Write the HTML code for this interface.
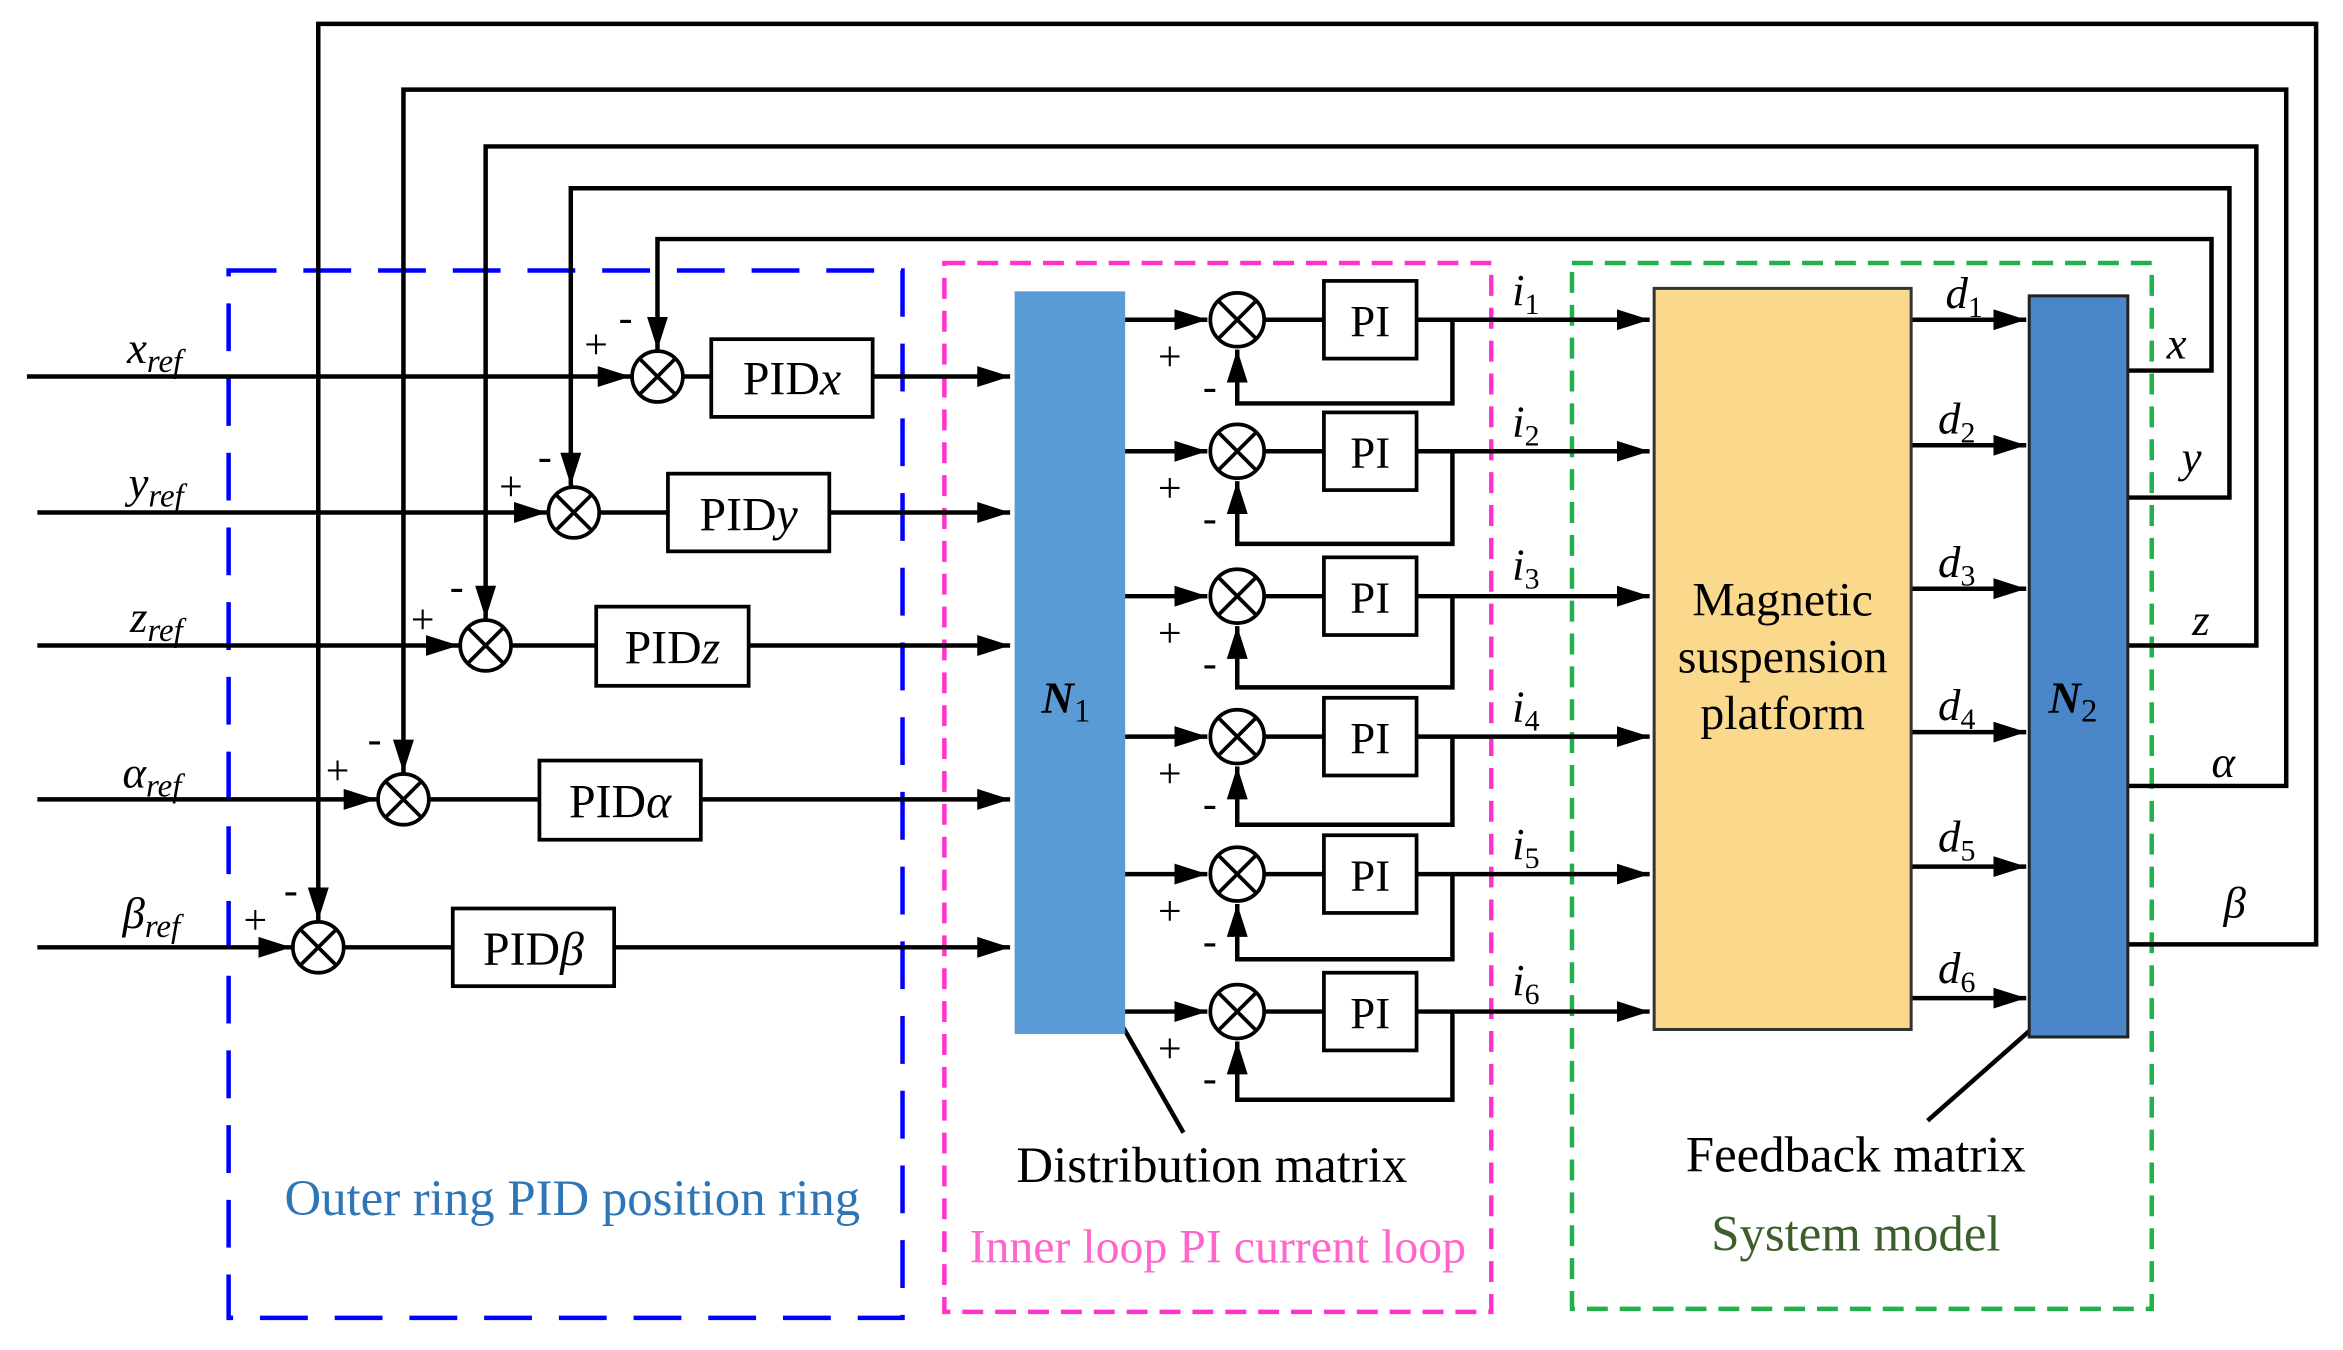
<!DOCTYPE html>
<html><head><meta charset="utf-8"><style>html,body{margin:0;padding:0;background:#fff}svg{display:block}</style></head>
<body>
<svg width="2343" height="1350" viewBox="0 0 1568 903.5" preserveAspectRatio="none" xmlns="http://www.w3.org/2000/svg" font-family="Liberation Serif, serif">
<defs>
<marker id="b" markerWidth="24" markerHeight="16" refX="22" refY="8" orient="auto" markerUnits="userSpaceOnUse"><path d="M0,1 L22,8 L0,15 z" fill="#000"/></marker></defs>
<g fill="none" stroke-width="3">
<rect x="153" y="181" width="451" height="701" stroke="#0000ff" stroke-dasharray="32,18"/>
<rect x="632" y="176" width="366" height="702" stroke="#ff33cc" stroke-dasharray="14,8"/>
<rect x="1052" y="176" width="388" height="700" stroke="#22b04b" stroke-dasharray="14,8"/>
</g>
<g stroke="#000" stroke-width="3" fill="none">
<path d="M1424,632 H1550 V16 H213 V616" marker-end="url(#b)"/>
<path d="M1424,526 H1530 V60 H270 V517" marker-end="url(#b)"/>
<path d="M1424,432 H1510 V98 H325 V414" marker-end="url(#b)"/>
<path d="M1424,333 H1492 V126 H382 V325" marker-end="url(#b)"/>
<path d="M1424,248 H1480 V160 H440 V234" marker-end="url(#b)"/>
<path d="M18,252 H422" marker-end="url(#b)"/><path d="M458,252 H476"/><path d="M584,252 H676" marker-end="url(#b)"/>
<path d="M25,343 H366" marker-end="url(#b)"/><path d="M402,343 H447"/><path d="M555,343 H676" marker-end="url(#b)"/>
<path d="M25,432 H307" marker-end="url(#b)"/><path d="M343,432 H399"/><path d="M501,432 H676" marker-end="url(#b)"/>
<path d="M25,535 H252" marker-end="url(#b)"/><path d="M288,535 H361"/><path d="M469,535 H676" marker-end="url(#b)"/>
<path d="M25,634 H195" marker-end="url(#b)"/><path d="M231,634 H303"/><path d="M411,634 H676" marker-end="url(#b)"/>
<path d="M1279,214 H1356" marker-end="url(#b)"/>
<path d="M1279,298 H1356" marker-end="url(#b)"/>
<path d="M1279,394 H1356" marker-end="url(#b)"/>
<path d="M1279,490 H1356" marker-end="url(#b)"/>
<path d="M1279,580 H1356" marker-end="url(#b)"/>
<path d="M1279,668 H1356" marker-end="url(#b)"/>
<path d="M733,655 L792,758"/><path d="M1383,668 L1290,750"/>
</g>
<rect x="679" y="195" width="74" height="497" fill="#5B9BD5"/>
<rect x="1107" y="193" width="172" height="496" fill="#FAD98C" stroke="#333" stroke-width="2"/>
<rect x="1358" y="198" width="66" height="496" fill="#4A86C8" stroke="#222" stroke-width="2"/>
<g stroke="#000" stroke-width="2.5" fill="#fff">
<rect x="476" y="227" width="108" height="52"/><rect x="447" y="317" width="108" height="52"/>
<rect x="399" y="406" width="102" height="53"/><rect x="361" y="509" width="108" height="53"/>
<rect x="303" y="608" width="108" height="52"/>
</g>
<g stroke="#000" stroke-width="2.5" fill="#fff">
<g transform="translate(440,252)"><circle r="17"/><path d="M-12,-12 L12,12 M12,-12 L-12,12"/></g>
<g transform="translate(384,343)"><circle r="17"/><path d="M-12,-12 L12,12 M12,-12 L-12,12"/></g>
<g transform="translate(325,432)"><circle r="17"/><path d="M-12,-12 L12,12 M12,-12 L-12,12"/></g>
<g transform="translate(270,535)"><circle r="17"/><path d="M-12,-12 L12,12 M12,-12 L-12,12"/></g>
<g transform="translate(213,634)"><circle r="17"/><path d="M-12,-12 L12,12 M12,-12 L-12,12"/></g>
</g>
<g font-size="32" text-anchor="middle">
<text x="530" y="264">PID<tspan font-style="italic">x</tspan></text>
<text x="501" y="355">PID<tspan font-style="italic">y</tspan></text>
<text x="450" y="444">PID<tspan font-style="italic">z</tspan></text>
<text x="415" y="547">PID<tspan font-style="italic">α</tspan></text>
<text x="357" y="646">PID<tspan font-style="italic">β</tspan></text>
</g>
<g font-size="30" font-style="italic">
<text x="85" y="243">x<tspan font-size="22" dy="6">ref</tspan></text>
<text x="86" y="333">y<tspan font-size="22" dy="6">ref</tspan></text>
<text x="87" y="423">z<tspan font-size="22" dy="6">ref</tspan></text>
<text x="82" y="527">α<tspan font-size="22" dy="6">ref</tspan></text>
<text x="82" y="621">β<tspan font-size="22" dy="6">ref</tspan></text>
</g>
<g font-size="28">
<text x="391" y="240">+</text><text x="414" y="222">-</text>
<text x="334" y="335">+</text><text x="360" y="315">-</text>
<text x="275" y="424">+</text><text x="301" y="402">-</text>
<text x="218" y="525">+</text><text x="246" y="504">-</text>
<text x="163" y="625">+</text><text x="190" y="605">-</text>
</g>
<g stroke="#000" stroke-width="3" fill="none">
<path d="M753,214 H808" marker-end="url(#b)"/><path d="M846,214 H886"/><path d="M948,214 H1104" marker-end="url(#b)"/><path d="M972,214 V270 H828 V234" marker-end="url(#b)"/>
<path d="M753,302 H808" marker-end="url(#b)"/><path d="M846,302 H886"/><path d="M948,302 H1104" marker-end="url(#b)"/><path d="M972,302 V364 H828 V322" marker-end="url(#b)"/>
<path d="M753,399 H808" marker-end="url(#b)"/><path d="M846,399 H886"/><path d="M948,399 H1104" marker-end="url(#b)"/><path d="M972,399 V460 H828 V419" marker-end="url(#b)"/>
<path d="M753,493 H808" marker-end="url(#b)"/><path d="M846,493 H886"/><path d="M948,493 H1104" marker-end="url(#b)"/><path d="M972,493 V552 H828 V513" marker-end="url(#b)"/>
<path d="M753,585 H808" marker-end="url(#b)"/><path d="M846,585 H886"/><path d="M948,585 H1104" marker-end="url(#b)"/><path d="M972,585 V642 H828 V605" marker-end="url(#b)"/>
<path d="M753,677 H808" marker-end="url(#b)"/><path d="M846,677 H886"/><path d="M948,677 H1104" marker-end="url(#b)"/><path d="M972,677 V736 H828 V697" marker-end="url(#b)"/>
</g>
<g stroke="#000" stroke-width="2.5" fill="#fff">
<g transform="translate(828,214)"><circle r="18"/><path d="M-13,-13 L13,13 M13,-13 L-13,13"/></g>
<g transform="translate(828,302)"><circle r="18"/><path d="M-13,-13 L13,13 M13,-13 L-13,13"/></g>
<g transform="translate(828,399)"><circle r="18"/><path d="M-13,-13 L13,13 M13,-13 L-13,13"/></g>
<g transform="translate(828,493)"><circle r="18"/><path d="M-13,-13 L13,13 M13,-13 L-13,13"/></g>
<g transform="translate(828,585)"><circle r="18"/><path d="M-13,-13 L13,13 M13,-13 L-13,13"/></g>
<g transform="translate(828,677)"><circle r="18"/><path d="M-13,-13 L13,13 M13,-13 L-13,13"/></g>
<rect x="886" y="188" width="62" height="52"/><rect x="886" y="276" width="62" height="52"/>
<rect x="886" y="373" width="62" height="52"/><rect x="886" y="467" width="62" height="52"/>
<rect x="886" y="559" width="62" height="52"/><rect x="886" y="651" width="62" height="52"/>
</g>
<g font-size="30" text-anchor="middle">
<text x="917" y="225">PI</text><text x="917" y="313">PI</text><text x="917" y="410">PI</text>
<text x="917" y="504">PI</text><text x="917" y="596">PI</text><text x="917" y="688">PI</text>
</g>
<g font-size="28">
<text x="775" y="248">+</text><text x="805" y="268">-</text>
<text x="775" y="336">+</text><text x="805" y="356">-</text>
<text x="775" y="433">+</text><text x="805" y="453">-</text>
<text x="775" y="527">+</text><text x="805" y="547">-</text>
<text x="775" y="619">+</text><text x="805" y="639">-</text>
<text x="775" y="711">+</text><text x="805" y="731">-</text>
</g>
<g font-size="30" font-style="italic">
<text x="1012" y="204">i<tspan font-size="20" dy="6" font-style="normal">1</tspan></text>
<text x="1012" y="292">i<tspan font-size="20" dy="6" font-style="normal">2</tspan></text>
<text x="1012" y="388">i<tspan font-size="20" dy="6" font-style="normal">3</tspan></text>
<text x="1012" y="483">i<tspan font-size="20" dy="6" font-style="normal">4</tspan></text>
<text x="1012" y="575">i<tspan font-size="20" dy="6" font-style="normal">5</tspan></text>
<text x="1012" y="666">i<tspan font-size="20" dy="6" font-style="normal">6</tspan></text>
<text x="1302" y="206">d<tspan font-size="20" dy="6" font-style="normal">1</tspan></text>
<text x="1297" y="290">d<tspan font-size="20" dy="6" font-style="normal">2</tspan></text>
<text x="1297" y="386">d<tspan font-size="20" dy="6" font-style="normal">3</tspan></text>
<text x="1297" y="482">d<tspan font-size="20" dy="6" font-style="normal">4</tspan></text>
<text x="1297" y="570">d<tspan font-size="20" dy="6" font-style="normal">5</tspan></text>
<text x="1297" y="658">d<tspan font-size="20" dy="6" font-style="normal">6</tspan></text>
<text x="1450" y="240">x</text><text x="1460" y="316">y</text><text x="1467" y="425">z</text>
<text x="1480" y="520">α</text><text x="1488" y="614">β</text>
<text x="697" y="477" font-weight="bold">N<tspan font-size="22" dy="6" font-weight="normal" font-style="normal">1</tspan></text>
<text x="1371" y="477" font-weight="bold">N<tspan font-size="22" dy="6" font-weight="normal" font-style="normal">2</tspan></text>
</g>
<g font-size="32" text-anchor="middle">
<text x="1193" y="412">Magnetic</text><text x="1193" y="450">suspension</text><text x="1193" y="488">platform</text>
</g>
<g font-size="34" text-anchor="middle">
<text x="811" y="791">Distribution matrix</text>
<text x="1242" y="784">Feedback matrix</text>
<text x="1242" y="837" fill="#3B5E2B">System model</text>
<text x="383" y="813" fill="#2E75B6">Outer ring PID position ring</text>
<text x="815" y="845" fill="#FF66CC" font-size="32">Inner loop PI current loop</text>
</g>
</svg>
</body></html>
